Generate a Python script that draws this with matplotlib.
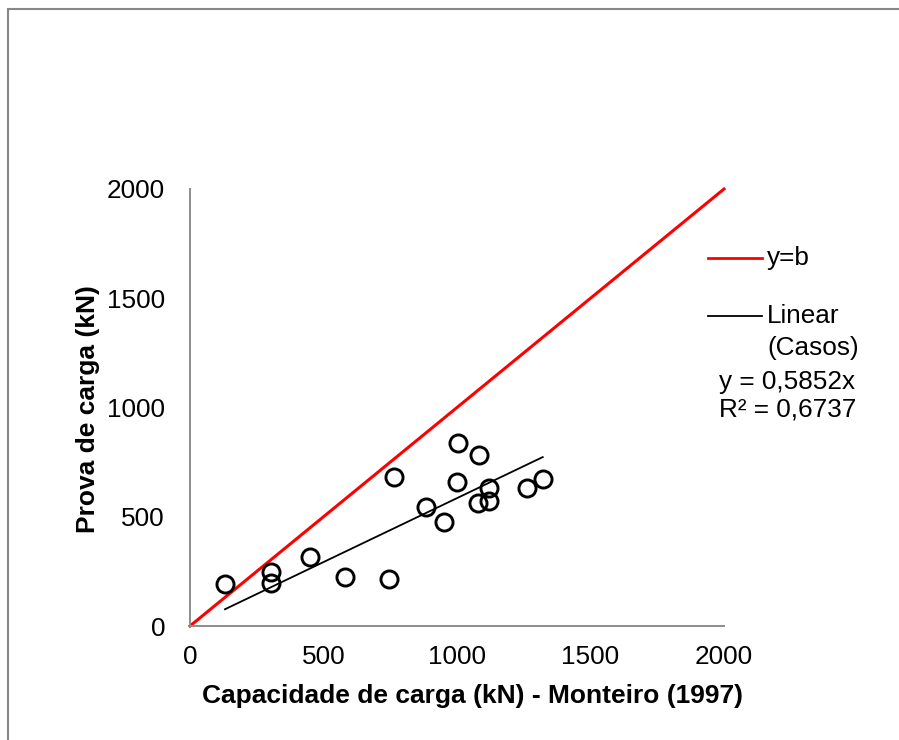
import matplotlib
matplotlib.use("Agg")
import matplotlib.pyplot as plt
from matplotlib.patches import Rectangle
import numpy as np

plt.rcParams['font.family'] = ['Liberation Sans', 'DejaVu Sans']

# Data
capacidade = [131, 302, 302, 451, 580, 746, 765, 883, 950, 1005, 1000, 1081, 1080, 1121, 1118, 1261, 1321]
prova = [191, 249, 195, 317, 223, 215, 680, 543, 475, 836, 660, 783, 561, 633, 573, 632, 671]
ref_line_x = [0, 2000]
ref_line_y = [0, 2000]
slope = 0.5852
r2 = 0.6737
ticks = [0, 500, 1000, 1500, 2000]

W, H = 899, 740
fig = plt.figure(figsize=(W / 100, H / 100), dpi=100)

# outer chart frame (grey), top/left visible
fig.patches.append(Rectangle((7.5 / W, 0 - 0.05), 1.2, (H - 9) / H + 0.05,
                             transform=fig.transFigure, fill=False,
                             edgecolor='#878787', linewidth=1.5, zorder=0))

ax = fig.add_axes([190 / W, (H - 626) / H, (724 - 190) / W, (626 - 189) / H])
ax.set_xlim(0, 2000)
ax.set_ylim(0, 2000)
ax.set_xticks(ticks)
ax.set_yticks(ticks)
ax.set_xticklabels([str(t) for t in ticks])
ax.set_yticklabels([str(t) for t in ticks])
ax.tick_params(axis='both', length=0, labelsize=18.8, colors='black')
ax.tick_params(axis='y', pad=18)
ax.tick_params(axis='x', pad=14)
for s in ['top', 'right']:
    ax.spines[s].set_visible(False)
for s in ['left', 'bottom']:
    ax.spines[s].set_color('#8c8c8c')
    ax.spines[s].set_linewidth(1.4)

ax.plot(ref_line_x, ref_line_y, color='#ff0000', linewidth=2.2, zorder=2, clip_on=False)
tx = np.array([min(capacidade), max(capacidade)])
ax.plot(tx, slope * tx, color='black', linewidth=1.3, zorder=3)
ax.plot(capacidade, prova, linestyle='none', marker='o', markersize=12.3,
        markerfacecolor='none', markeredgecolor='black', markeredgewidth=2.1, zorder=4)

# axis titles
fig.text(472 / W, 1 - 696 / H, 'Capacidade de carga (kN) - Monteiro (1997)',
         ha='center', va='center', fontsize=19, fontweight='bold')
fig.text(87.5 / W, 1 - 409 / H, 'Prova de carga (kN)', rotation=90,
         ha='center', va='center', fontsize=19, fontweight='bold')

# legend
fs = 18.8
fig.add_artist(plt.Line2D([708 / W, 762 / W], [1 - 258 / H, 1 - 258 / H],
                          color='#ff0000', linewidth=2.0, transform=fig.transFigure))
fig.text(767 / W, 1 - 258 / H, 'y=b', ha='left', va='center', fontsize=fs)
fig.add_artist(plt.Line2D([708 / W, 762 / W], [1 - 316 / H, 1 - 316 / H],
                          color='black', linewidth=1.3, transform=fig.transFigure))
fig.text(767 / W, 1 - 316 / H, 'Linear', ha='left', va='center', fontsize=fs)
fig.text(767 / W, 1 - 348 / H, '(Casos)', ha='left', va='center', fontsize=fs)
fig.text(719 / W, 1 - 382 / H, 'y = ' + f'{slope:.4f}'.replace('.', ',') + 'x',
         ha='left', va='center', fontsize=fs)
fig.text(719 / W, 1 - 410 / H, 'R² = ' + f'{r2:.4f}'.replace('.', ','),
         ha='left', va='center', fontsize=fs)

fig.savefig('out.png', dpi=100)
